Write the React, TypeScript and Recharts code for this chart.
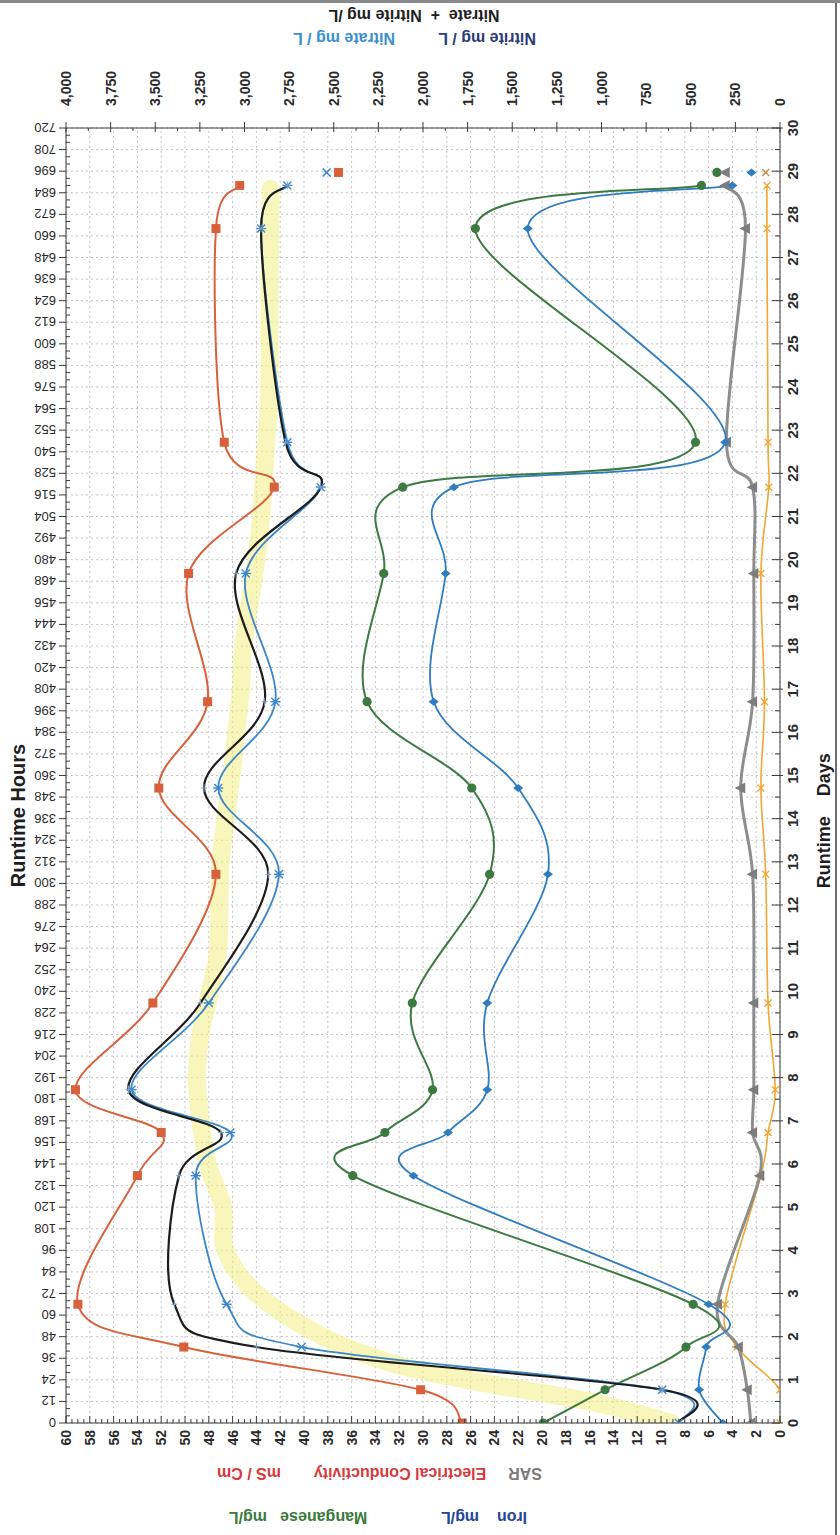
import React from 'react';
import { LineChart, Line, XAxis, YAxis, CartesianGrid } from 'recharts';

// The scanned sheet is landscape; we draw it landscape and turn it a quarter turn.
const W = 1535;
const H = 840;

// sample times in runtime days
const DAYS = [0, 0.77, 1.76, 2.75, 5.73, 6.73, 7.72, 9.73, 12.71, 14.71, 16.71, 19.68, 21.68, 22.72, 27.67, 28.67];

// left axis series
const EC = [26.7, 30.2, 50.1, 59.0, 54.0, 52.0, 59.2, 52.7, 47.4, 52.2, 48.1, 49.7, 42.5, 46.7, 47.4, 45.4];
const IRON = [4.8, 6.8, 6.2, 6.0, 30.8, 27.9, 24.6, 24.6, 19.5, 22.0, 29.1, 28.1, 27.4, 4.6, 21.2, 4.0];
const MANGANESE = [19.9, 14.7, 7.9, 7.3, 35.9, 33.2, 29.2, 30.9, 24.4, 25.9, 34.7, 33.3, 31.7, 7.1, 25.6, 6.6];
const SAR = [2.45, 2.75, 3.5, 5.25, 1.7, 2.3, 2.2, 2.2, 2.3, 3.3, 2.3, 2.2, 2.3, 4.5, 2.9, 4.6];

// right axis series (mg/L)
const NITRATE_NITRITE = [567, 660, 2933, 3393, 3367, 3133, 3650, 3247, 2867, 3227, 2887, 3047, 2573, 2770, 2907, 2760];
const NITRATE = [567, 660, 2680, 3100, 3273, 3080, 3633, 3200, 2807, 3147, 2827, 2993, 2573, 2760, 2907, 2760];
const NITRITE = [0, 0, 240, 307, 107, 67, 27, 67, 80, 107, 87, 107, 63, 67, 73, 73];

// the stray readings plotted on their own near day 29
const LONE_DAY = 28.97;
const LONE = { ec: 37.1, iron: 2.4, mn: 5.3, sar: 4.6, no3: 2540, no2: 80 };

// hand drawn yellow highlighter stroke (left axis units)
const BAND_DAYS = [0, 0.47, 1, 1.4, 2, 3, 4, 5, 6, 7, 8, 9, 10, 11, 13, 15, 17, 18, 20, 21, 23, 24, 26, 28.6];
const BAND_VALUES = [9.1, 15.6, 26.3, 32.8, 38.4, 44.0, 46.6, 46.8, 48.1, 48.7, 49.0, 48.7, 47.9, 47.2, 47.0, 46.1, 45.3, 45.1, 44.0, 43.6, 43.1, 42.9, 42.9, 42.8];

// tick labels
const DAY_TICKS = [0, 1, 2, 3, 4, 5, 6, 7, 8, 9, 10, 11, 12, 13, 14, 15, 16, 17, 18, 19, 20, 21, 22, 23, 24, 25, 26, 27, 28, 29, 30];
const HOUR_TICKS = [0, 12, 24, 36, 48, 60, 72, 84, 96, 108, 120, 132, 144, 156, 168, 180, 192, 204, 216, 228, 240, 252, 264, 276, 288, 300, 312, 324, 336, 348, 360, 372, 384, 396, 408, 420, 432, 444, 456, 468, 480, 492, 504, 516, 528, 540, 552, 564, 576, 588, 600, 612, 624, 636, 648, 660, 672, 684, 696, 708, 720];
const LEFT_TICKS = [0, 2, 4, 6, 8, 10, 12, 14, 16, 18, 20, 22, 24, 26, 28, 30, 32, 34, 36, 38, 40, 42, 44, 46, 48, 50, 52, 54, 56, 58, 60];
const RIGHT_TICKS = [0, 250, 500, 750, 1000, 1250, 1500, 1750, 2000, 2250, 2500, 2750, 3000, 3250, 3500, 3750, 4000];

// minor tick positions
const DAY_MINOR = DAY_TICKS.slice(0, -1).map((d) => d + 0.5);
const HOUR_MINOR = HOUR_TICKS.slice(0, -1).flatMap((h) => [h + 4, h + 8]);
const LEFT_MINOR = LEFT_TICKS.slice(0, -1).flatMap((v) => [v + 0.5, v + 1, v + 1.5]);
const RIGHT_MINOR = RIGHT_TICKS.slice(0, -1).map((v) => v + 125);

const C = {
  ec: '#d8613c',
  black: '#1c1c1c',
  no3: '#3a86c8',
  iron: '#2f7cc0',
  mn: '#3c7a40',
  sar: '#8d8d8d',
  no2: '#f0a733',
  band: '#f4ee84',
  axis: '#3a3a3a',
  grid: '#c4c4c4',
};

const rows = [
  ...DAYS.map((day, i) => ({
    day,
    ec: EC[i],
    iron: IRON[i],
    mn: MANGANESE[i],
    sar: SAR[i],
    nn: NITRATE_NITRITE[i],
    no3: NITRATE[i],
    no2: NITRITE[i],
  })),
  {
    day: LONE_DAY,
    ecLone: LONE.ec,
    ironLone: LONE.iron,
    mnLone: LONE.mn,
    sarLone: LONE.sar,
    no3Lone: LONE.no3,
    no2Lone: LONE.no2,
  },
];

const bandRows = BAND_DAYS.map((day, i) => ({ day, band: BAND_VALUES[i] }));

// Excel style smoothed line (Catmull-Rom, control points at 1/6)
function excelSmooth(context: any) {
  let pts: number[][] = [];
  return {
    areaStart() {},
    areaEnd() {},
    lineStart() {
      pts = [];
    },
    point(x: number, y: number) {
      pts.push([+x, +y]);
    },
    lineEnd() {
      const n = pts.length;
      if (!n) return;
      context.moveTo(pts[0][0], pts[0][1]);
      for (let i = 0; i < n - 1; i++) {
        const p0 = pts[i - 1] || pts[i];
        const p1 = pts[i];
        const p2 = pts[i + 1];
        const p3 = pts[i + 2] || p2;
        context.bezierCurveTo(
          p1[0] + (p2[0] - p0[0]) / 6,
          p1[1] + (p2[1] - p0[1]) / 6,
          p2[0] - (p3[0] - p1[0]) / 6,
          p2[1] - (p3[1] - p1[1]) / 6,
          p2[0],
          p2[1],
        );
      }
    },
  };
}

const empty = (p: any) => <g key={`e-${p.index}`} />;
const ok = (p: any) => p.cx != null && p.cy != null && !Number.isNaN(p.cx) && !Number.isNaN(p.cy);

const squareDot = (color: string) => (p: any) =>
  ok(p) ? <rect key={`s-${p.index}`} x={p.cx - 4.5} y={p.cy - 4.5} width={9} height={9} fill={color} /> : empty(p);
const circleDot = (color: string) => (p: any) =>
  ok(p) ? <circle key={`c-${p.index}`} cx={p.cx} cy={p.cy} r={4.6} fill={color} /> : empty(p);
const diamondDot = (color: string) => (p: any) =>
  ok(p) ? (
    <polygon
      key={`d-${p.index}`}
      points={`${p.cx},${p.cy - 5} ${p.cx + 4},${p.cy} ${p.cx},${p.cy + 5} ${p.cx - 4},${p.cy}`}
      fill={color}
    />
  ) : (
    empty(p)
  );
const triangleDot = (color: string) => (p: any) =>
  ok(p) ? (
    <polygon
      key={`t-${p.index}`}
      points={`${p.cx},${p.cy - 6} ${p.cx - 5.5},${p.cy + 4.5} ${p.cx + 5.5},${p.cy + 4.5}`}
      fill={color}
    />
  ) : (
    empty(p)
  );
const crossDot = (color: string, s: number, w: number) => (p: any) =>
  ok(p) ? (
    <g key={`x-${p.index}`} stroke={color} strokeWidth={w}>
      <line x1={p.cx - s} y1={p.cy - s} x2={p.cx + s} y2={p.cy + s} />
      <line x1={p.cx - s} y1={p.cy + s} x2={p.cx + s} y2={p.cy - s} />
    </g>
  ) : (
    empty(p)
  );
const starDot = (color: string) => (p: any) =>
  ok(p) ? (
    <g key={`a-${p.index}`} stroke={color} strokeWidth={1.4}>
      <line x1={p.cx - 4} y1={p.cy - 4} x2={p.cx + 4} y2={p.cy + 4} />
      <line x1={p.cx - 4} y1={p.cy + 4} x2={p.cx + 4} y2={p.cy - 4} />
      <line x1={p.cx} y1={p.cy - 5} x2={p.cx} y2={p.cy + 5} />
    </g>
  ) : (
    empty(p)
  );
const plusDot = (color: string) => (p: any) =>
  ok(p) ? (
    <g key={`p-${p.index}`} stroke={color} strokeWidth={1}>
      <line x1={p.cx - 4} y1={p.cy} x2={p.cx + 4} y2={p.cy} />
      <line x1={p.cx} y1={p.cy - 3} x2={p.cx} y2={p.cy + 3} />
    </g>
  ) : (
    empty(p)
  );

const isOn = (v: number, step: number) => Math.abs(v / step - Math.round(v / step)) < 1e-6;

function DayTick(props: any) {
  const { x, y, payload } = props;
  const major = isOn(payload.value, 1);
  return (
    <g>
      <line x1={x} x2={x} y1={y - (major ? 8 : 5)} y2={y + (major ? 3 : 0)} stroke={C.axis} />
      {major && (
        <text x={x} y={y + 18} textAnchor="middle" fontSize={15} fontWeight={700} fill="#2a2a2a" fontFamily="Liberation Sans, Arial, sans-serif">
          {payload.value}
        </text>
      )}
    </g>
  );
}

function HourTick(props: any) {
  const { x, y, payload } = props;
  const hours = Math.round(payload.value * 24);
  const major = hours % 12 === 0;
  return (
    <g>
      <line x1={x} x2={x} y1={y - (major ? 7 : 0)} y2={y + (major ? 0 : 4)} stroke={C.axis} />
      {major && (
        <text
          x={x + 5}
          y={y - 10}
          transform={`rotate(-90, ${x + 5}, ${y - 10})`}
          textAnchor="start"
          fontSize={13}
          fill="#2a2a2a"
          fontFamily="Liberation Sans, Arial, sans-serif"
        >
          {hours}
        </text>
      )}
    </g>
  );
}

function LeftTick(props: any) {
  const { x, y, payload } = props;
  const major = isOn(payload.value, 2);
  return (
    <g>
      <line x1={x} x2={x + (major ? 7 : 4)} y1={y} y2={y} stroke={C.axis} />
      {major && (
        <text x={x - 7} y={y + 5} textAnchor="end" fontSize={14} fontWeight={700} fill="#2a2a2a" fontFamily="Liberation Sans, Arial, sans-serif">
          {payload.value}
        </text>
      )}
    </g>
  );
}

function RightTick(props: any) {
  const { x, y, payload } = props;
  const major = isOn(payload.value, 250);
  return (
    <g>
      <line x1={x - (major ? 4 : 3)} x2={x + (major ? 6 : 0)} y1={y} y2={y} stroke={C.axis} />
      {major && (
        <text x={x + 22} y={y + 5} textAnchor="start" fontSize={14} fontWeight={700} fill="#2a2a2a" fontFamily="Liberation Sans, Arial, sans-serif">
          {payload.value.toLocaleString('en-US')}
        </text>
      )}
    </g>
  );
}

const titleFont = '"Liberation Sans Narrow", "Liberation Sans", Arial, sans-serif';

function Title(props: { x: number; y: number; color: string; size: number; vertical?: boolean; children: React.ReactNode }) {
  const { x, y, color, size, vertical, children } = props;
  return (
    <div
      style={{
        position: 'absolute',
        left: x,
        top: y,
        transform: `translate(-50%, -50%)${vertical ? ' rotate(-90deg)' : ''}`,
        whiteSpace: 'pre',
        color,
        fontSize: size,
        fontWeight: 700,
        fontFamily: titleFont,
        lineHeight: 1,
      }}
    >
      {children}
    </div>
  );
}

export default function App() {
  const top = 66;
  const bottom = 780;
  const left = 112;
  const right = 1407;
  const valueY = (v: number) => top + ((60 - v) / 60) * (bottom - top);
  const rightY = (v: number) => top + ((4000 - v) / 4000) * (bottom - top);

  return (
    <div
      style={{
        position: 'absolute',
        left: 0,
        top: 0,
        width: W,
        height: H,
        background: '#ffffff',
        transformOrigin: '0 0',
        transform: `translate(0px, ${W}px) rotate(-90deg)`,
      }}
    >
      <LineChart
        width={W}
        height={H}
        data={rows}
        margin={{ top: top - 30, right: W - right - 40, bottom: H - bottom - 30, left: left - 40 }}
      >
        <CartesianGrid
          xAxisId="days"
          yAxisId="left"
          stroke={C.grid}
          strokeDasharray="2 3"
          verticalValues={[...DAY_TICKS, ...DAY_MINOR]}
          horizontalValues={LEFT_TICKS}
        />
        <XAxis
          xAxisId="days"
          dataKey="day"
          type="number"
          domain={[0, 30]}
          ticks={[...DAY_TICKS, ...DAY_MINOR]}
          interval={0}
          height={30}
          tickSize={0}
          tickMargin={0}
          tickLine={false}
          axisLine={{ stroke: C.axis }}
          tick={<DayTick />}
          allowDataOverflow
        />
        <XAxis
          xAxisId="hours"
          orientation="top"
          dataKey="day"
          type="number"
          domain={[0, 30]}
          ticks={[...HOUR_TICKS, ...HOUR_MINOR].map((h) => h / 24)}
          interval={0}
          height={30}
          tickSize={0}
          tickMargin={0}
          tickLine={false}
          axisLine={{ stroke: C.axis }}
          tick={<HourTick />}
          allowDataOverflow
        />
        <YAxis
          yAxisId="left"
          type="number"
          domain={[0, 60]}
          ticks={[...LEFT_TICKS, ...LEFT_MINOR]}
          interval={0}
          width={40}
          tickSize={0}
          tickMargin={0}
          tickLine={false}
          axisLine={{ stroke: C.axis }}
          tick={<LeftTick />}
          allowDataOverflow
        />
        <YAxis
          yAxisId="right"
          orientation="right"
          type="number"
          domain={[0, 4000]}
          ticks={[...RIGHT_TICKS, ...RIGHT_MINOR]}
          interval={0}
          width={40}
          tickSize={0}
          tickMargin={0}
          tickLine={false}
          axisLine={{ stroke: C.axis }}
          tick={<RightTick />}
          allowDataOverflow
        />

        <Line
          data={bandRows}
          xAxisId="hours"
          yAxisId="left"
          dataKey="band"
          type={excelSmooth as any}
          stroke={C.band}
          strokeOpacity={0.55}
          strokeWidth={18}
          strokeLinecap="round"
          dot={false}
          activeDot={false}
          isAnimationActive={false}
        />

        <Line xAxisId="days" yAxisId="right" dataKey="no2" type={excelSmooth as any} stroke={C.no2} strokeWidth={1.6} dot={crossDot(C.no2, 3.5, 1.4)} activeDot={false} isAnimationActive={false} />
        <Line xAxisId="days" yAxisId="left" dataKey="sar" type={excelSmooth as any} stroke={C.sar} strokeWidth={3} dot={triangleDot('#7d7d7d')} activeDot={false} isAnimationActive={false} />
        <Line xAxisId="days" yAxisId="left" dataKey="mn" type={excelSmooth as any} stroke={C.mn} strokeWidth={2} dot={circleDot(C.mn)} activeDot={false} isAnimationActive={false} />
        <Line xAxisId="days" yAxisId="left" dataKey="iron" type={excelSmooth as any} stroke={C.iron} strokeWidth={1.8} dot={diamondDot(C.iron)} activeDot={false} isAnimationActive={false} />
        <Line xAxisId="days" yAxisId="left" dataKey="ec" type={excelSmooth as any} stroke={C.ec} strokeWidth={2} dot={squareDot(C.ec)} activeDot={false} isAnimationActive={false} />
        <Line xAxisId="days" yAxisId="right" dataKey="no3" type={excelSmooth as any} stroke={C.no3} strokeWidth={1.8} dot={starDot(C.no3)} activeDot={false} isAnimationActive={false} />
        <Line xAxisId="days" yAxisId="right" dataKey="nn" type={excelSmooth as any} stroke={C.black} strokeWidth={2.2} dot={plusDot('#7f9fc4')} activeDot={false} isAnimationActive={false} />

        <Line xAxisId="days" yAxisId="left" dataKey="ecLone" stroke="none" dot={squareDot(C.ec)} activeDot={false} isAnimationActive={false} />
        <Line xAxisId="days" yAxisId="left" dataKey="ironLone" stroke="none" dot={diamondDot(C.iron)} activeDot={false} isAnimationActive={false} />
        <Line xAxisId="days" yAxisId="left" dataKey="mnLone" stroke="none" dot={circleDot(C.mn)} activeDot={false} isAnimationActive={false} />
        <Line xAxisId="days" yAxisId="left" dataKey="sarLone" stroke="none" dot={triangleDot('#7d7d7d')} activeDot={false} isAnimationActive={false} />
        <Line xAxisId="days" yAxisId="right" dataKey="no3Lone" stroke="none" dot={crossDot(C.no3, 4, 1.6)} activeDot={false} isAnimationActive={false} />
        <Line xAxisId="days" yAxisId="right" dataKey="no2Lone" stroke="none" dot={crossDot('#c98a3a', 3.5, 1.4)} activeDot={false} isAnimationActive={false} />
      </LineChart>

      {/* scanned page edges */}
      <div style={{ position: 'absolute', left: 0, top: 835, width: W, height: 2, background: '#6e6e6e' }} />
      <div style={{ position: 'absolute', left: W - 3, top: 0, width: 3, height: H, background: '#8a8a8a' }} />

      {/* axis titles */}
      <Title x={(left + right) / 2 - 40} y={18} color="#1e1e1e" size={20}>Runtime Hours</Title>
      <Title x={left + 13.95 * ((right - left) / 30)} y={824} color="#1e1e1e" size={18}>{'Runtime    Days'}</Title>

      <Title x={62} y={valueY(21.4)} color="#7a7a7a" size={16} vertical>SAR</Title>
      <Title x={62} y={valueY(31.9)} color="#d63a3a" size={16} vertical>Electrical Conductivity</Title>
      <Title x={62} y={valueY(44.6)} color="#d63a3a" size={16} vertical>mS / Cm</Title>
      <Title x={18} y={valueY(24.9)} color="#24469a" size={16} vertical>{'Iron    mg/L'}</Title>
      <Title x={18} y={valueY(40.5)} color="#3b7a3b" size={16} vertical>Manganese   mg/L</Title>

      <Title x={1520} y={rightY(2052)} color="#202020" size={16} vertical>Nitrate  +  Nitrite mg /L</Title>
      <Title x={1497} y={rightY(1640)} color="#2b3c78" size={16} vertical>Nitrite mg / L</Title>
      <Title x={1497} y={rightY(2442)} color="#3a8fcf" size={16} vertical>Nitrate mg / L</Title>
    </div>
  );
}
